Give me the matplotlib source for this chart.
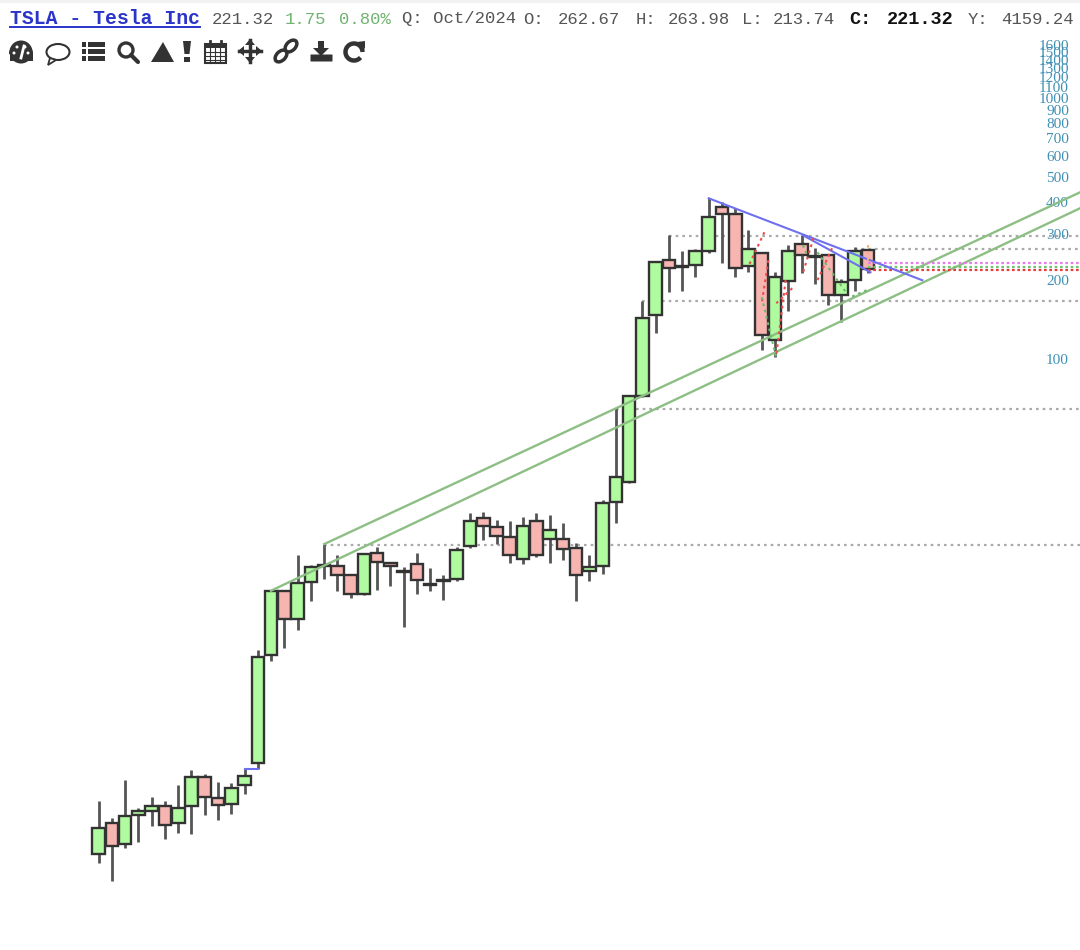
import numpy as np
import matplotlib
matplotlib.use('Agg')
import matplotlib.pyplot as plt
from matplotlib.patches import Rectangle, Circle, Wedge, Ellipse, Polygon, Arc, FancyBboxPatch

# quarterly candles
opens = [1.27, 1.67, 1.39, 1.79, 1.85, 1.94, 1.67, 1.94, 2.50, 2.08, 1.97, 2.33, 2.83, 7.34, 12.90,
         10.08, 13.97, 16.08, 16.08, 14.86, 12.56, 18.04, 16.51, 15.25, 16.37, 13.72, 14.09, 14.34,
         19.19, 24.56, 22.69, 20.77, 17.11, 23.92, 20.41, 20.41, 18.85, 15.39, 16.08, 28.27, 33.73,
         72.02, 147.1, 239.0, 225.8, 228.7, 258.7, 381.3, 358.6, 226.7, 254.2, 118.0, 198.6, 275.2,
         247.6, 249.8, 175.6, 200.4, 262.67]
highs = [2.03, 1.74, 2.44, 1.90, 2.10, 2.03, 2.33, 2.66, 2.57, 2.39, 2.37, 2.69, 7.67, 12.95, 12.95,
         17.72, 16.23, 19.53, 17.72, 14.95, 18.04, 19.02, 16.66, 15.94, 18.04, 15.80, 14.86, 19.02,
         25.67, 25.89, 24.13, 23.92, 24.78, 25.67, 25.22, 23.50, 19.70, 17.72, 28.78, 64.79, 72.30,
         166.5, 236.9, 298.0, 258.7, 263.3, 412.9, 398.5, 378.0, 311.3, 255.0, 215.0, 272.8, 298.0,
         265.6, 251.0, 202.1, 268.0, 263.98]
lows = [1.17, 1.00, 1.34, 1.41, 1.62, 1.45, 1.53, 1.51, 1.79, 1.71, 1.81, 2.15, 2.69, 6.96, 7.81,
        9.15, 11.81, 14.34, 12.90, 12.13, 12.45, 13.01, 13.48, 9.39, 12.56, 12.90, 11.92, 14.09,
        18.85, 20.23, 19.53, 16.51, 16.37, 17.41, 16.51, 16.96, 11.81, 14.09, 14.99, 23.50, 33.60,
        71.80, 125.6, 180.3, 181.8, 205.7, 254.2, 232.8, 205.7, 215.0, 108.0, 101.6, 152.4, 213.1,
        193.4, 160.7, 138.0, 181.8, 213.74]
closes = [1.60, 1.36, 1.77, 1.85, 1.94, 1.64, 1.90, 2.50, 2.10, 1.96, 2.27, 2.52, 7.21, 12.90, 10.08,
          13.84, 15.94, 16.23, 14.86, 12.56, 17.88, 16.66, 16.08, 15.39, 14.22, 13.60, 14.22, 18.52,
          23.92, 22.89, 20.95, 17.72, 22.89, 17.72, 22.09, 18.69, 14.86, 15.94, 28.03, 35.25, 72.02,
          143.2, 234.8, 222.7, 226.7, 258.7, 349.2, 358.6, 222.7, 263.3, 123.4, 205.7, 258.7, 249.8,
          245.4, 175.6, 196.8, 258.7, 221.32]

# price scale labels on the right
y_ticks = [100, 200, 300, 400, 500, 600, 700, 800, 900, 1000, 1100, 1200, 1300, 1400, 1500, 1600]

# dotted support / resistance levels: price, first candle
gray_levels = [295, 264.5, 167, 64.6, 19.4]
gray_starts = [43, 57, 41, 39, 17]
last_levels = [232.8, 225.6, 219.0]
last_colors = ['#e87be8', '#6fc46f', '#e83c3c']

# trend lines: (idx0, price0, idx1, price1)
channel_lines = [(17, 19.53, 74, 435), (13, 12.95, 74, 378)]
blue_lines = [(46, 412.9, 62.1, 200.4), (53.1, 298, 58.2, 214.9), (11, 2.68, 12, 2.68)]
red_dots = [(50.2, 305.9, 48.96, 224.7), (50.5, 239, 50.0, 163.5), (51.8, 200.4, 51.1, 103.4),
            (52.3, 186.7, 51.1, 163.5), (53.9, 290.2, 53.1, 213.1), (55.3, 265.6, 54.1, 195.1)]
green_dots = [(50.0, 172.5, 51.1, 100.7), (53.1, 272.8, 53.5, 245.4), (54.2, 256.5, 56.4, 178.7),
              (57.9, 183.4, 56.7, 172.5)]
orange_dots = [(58, 272.8, 58, 228.7)]

plt.rcParams['font.family'] = ['Liberation Mono', 'DejaVu Sans Mono']

fig = plt.figure(figsize=(10.8, 9.5), dpi=100)
ax = fig.add_axes([0, 0, 1, 1])
ax.set_yscale('log')
ax.set_xlim(-7.44, 74.0)
ax.set_ylim(0.544, 2374)
for s in ax.spines.values():
    s.set_visible(False)

x = np.arange(len(opens))
o = np.array(opens)
c = np.array(closes)

for lev, st in zip(gray_levels, gray_starts):
    ax.hlines(lev, st, 74, color='#ababab', lw=1.6, linestyles=(0, (1.2, 1.8)), zorder=1)
for lev, col in zip(last_levels, last_colors):
    ax.hlines(lev, 58, 74, color=col, lw=1.6, linestyles=(0, (1.2, 1.2)), zorder=5)

ax.vlines(x, lows, highs, color='#555555', lw=2, zorder=2)
colors = ['#b0fba0' if c[i] >= o[i] else '#f6b5b0' for i in x]
bot = np.minimum(o, c)
top = np.maximum(o, c)
ax.bar(x, top - bot, bottom=bot, width=0.95, color=colors, edgecolor='#333333', linewidth=1.7, zorder=3)

for x0, y0, x1, y1 in channel_lines:
    ax.plot([x0, x1], [y0, y1], color='#8dbf85', lw=1.7, zorder=4)
for x0, y0, x1, y1 in blue_lines:
    ax.plot([x0, x1], [y0, y1], color='#6f70ee', lw=1.5, zorder=6)
for seg_list, col in [(red_dots, '#ee4b4b'), (green_dots, '#6fb86f'), (orange_dots, '#f2b27a')]:
    for x0, y0, x1, y1 in seg_list:
        ax.plot([x0, x1], [y0, y1], color=col, lw=1.5, ls=(0, (1.3, 1.8)), zorder=6)

ax.yaxis.tick_right()
ax.set_yticks(y_ticks)
ax.set_yticklabels([str(t) for t in y_ticks], family='Liberation Serif', fontsize=11, color='#3f8fb5')
ax.minorticks_off()
ax.tick_params(axis='y', length=0, pad=-8, direction='in')
for lab in ax.get_yticklabels():
    lab.set_ha('right')
ax.set_xticks([])

# header and toolbar live in an overlay using pixel coordinates
ov = fig.add_axes([0, 0, 1, 1], facecolor='none')
ov.set_xlim(0, 1080)
ov.set_ylim(950, 0)
ov.axis('off')
ov.add_patch(Rectangle((0, 0), 1080, 3, color='#f2f2f2', lw=0))

ov.text(10, 19, 'TSLA - Tesla Inc', fontsize=14.2, fontweight='bold', color='#2b35c9', va='center')
ov.plot([10, 200], [27, 27], color='#2b35c9', lw=1.4)
header = [(212, '221.32', '#555555', 'normal', 12.4), (285, '1.75', '#6fb36f', 'normal', 12.4),
          (339, '0.80%', '#6fb36f', 'normal', 12.4), (402, 'Q: Oct/2024', '#555555', 'normal', 12.4),
          (523, 'O:', '#555555', 'normal', 12.4), (558, '262.67', '#555555', 'normal', 12.4),
          (636, 'H:', '#555555', 'normal', 12.4), (668, '263.98', '#555555', 'normal', 12.4),
          (742, 'L:', '#555555', 'normal', 12.4), (773, '213.74', '#555555', 'normal', 12.4),
          (849, 'C:', '#111111', 'bold', 13.3), (887, '221.32', '#111111', 'bold', 13.3),
          (968, 'Y:', '#555555', 'normal', 12.4), (1001, '4159.24', '#555555', 'normal', 12.4)]
for hx, txt, col, wt, fs in header:
    ov.text(hx, 19, txt, fontsize=fs, color=col, fontweight=wt, va='center')

ic = '#333333'
# gauge
ov.add_patch(Wedge((21, 54), 12, 180, 360, width=12, color=ic, lw=0))
ov.add_patch(Circle((21, 52), 11.5, color=ic, lw=0))
ov.add_patch(Rectangle((9.5, 52), 23, 9, color=ic, lw=0))
for dx, dy in [(-7, 1), (-4, -5), (4, -5), (7, 1)]:
    ov.add_patch(Circle((21 + dx, 52 + dy), 1.5, color='white', lw=0))
ov.plot([21, 24], [58, 46], color='white', lw=2)
# speech bubble
ov.add_patch(Ellipse((58, 52), 23, 16, fill=False, ec=ic, lw=1.5))
ov.add_patch(Polygon([(50, 58), (48, 65), (56, 60)], fc='white', ec=ic, lw=1.3))
# list
for ly in [44, 51, 58]:
    ov.add_patch(Rectangle((82, ly - 2), 4, 4.5, color=ic, lw=0))
    ov.add_patch(Rectangle((88, ly - 2), 17, 4.5, color=ic, lw=0))
# search
ov.add_patch(Circle((126, 50), 7, fill=False, ec=ic, lw=2.4))
ov.plot([131, 138], [55, 62], color=ic, lw=3, solid_capstyle='round')
# triangle and exclamation
ov.add_patch(Polygon([(151, 62), (163, 42), (174, 62)], color=ic, lw=0))
ov.add_patch(Polygon([(183, 41), (191, 41), (189.5, 54), (184.5, 54)], color=ic, lw=0))
ov.add_patch(Rectangle((184, 57), 6, 5, color=ic, lw=0))
# calendar
ov.add_patch(Rectangle((205, 44), 21, 19, fill=False, ec=ic, lw=1.5))
ov.add_patch(Rectangle((205, 44), 21, 4, color=ic, lw=0))
for gx in [210, 215, 220]:
    ov.plot([gx, gx], [48, 63], color=ic, lw=0.8)
for gy in [52, 56, 60]:
    ov.plot([205, 226], [gy, gy], color=ic, lw=0.8)
for gx in [210, 221]:
    ov.plot([gx, gx], [41, 46], color=ic, lw=2)
# move arrows
ov.plot([239, 261], [51, 51], color=ic, lw=2.5)
ov.plot([250, 250], [40, 62], color=ic, lw=2.5)
ov.add_patch(Polygon([(245, 45), (250, 39), (255, 45)], color=ic, lw=0))
ov.add_patch(Polygon([(245, 57), (250, 63), (255, 57)], color=ic, lw=0))
ov.add_patch(Polygon([(244, 46), (238, 51), (244, 56)], color=ic, lw=0))
ov.add_patch(Polygon([(256, 46), (262, 51), (256, 56)], color=ic, lw=0))
# link
ov.add_patch(Ellipse((281, 56), 14, 9, angle=-45, fill=False, ec=ic, lw=2.5))
ov.add_patch(Ellipse((291, 46), 14, 9, angle=-45, fill=False, ec=ic, lw=2.5))
# download
ov.add_patch(Polygon([(318, 41), (324, 41), (324, 48), (329, 48), (321, 56), (313, 48), (318, 48)], color=ic, lw=0))
ov.add_patch(FancyBboxPatch((311, 55), 21, 6, boxstyle='round,pad=0.5', color=ic, lw=0))
# reload
ov.add_patch(Arc((354, 52), 17, 17, theta1=-320, theta2=0, ec=ic, lw=3.2))
ov.add_patch(Polygon([(357, 42), (365, 41), (365, 49)], color=ic, lw=0))

fig.savefig('out.png', dpi=100)
